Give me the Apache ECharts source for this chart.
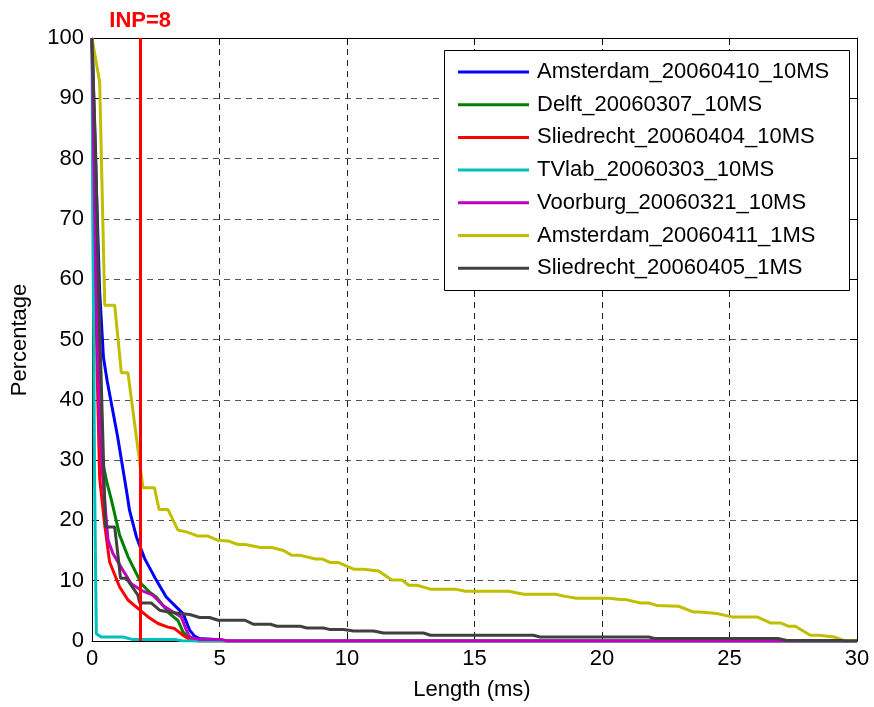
<!DOCTYPE html>
<html>
<head>
<meta charset="utf-8">
<script src="https://cdn.jsdelivr.net/npm/echarts@6/dist/echarts.min.js"></script>
<style>html,body{margin:0;padding:0;background:#fff;}#c{width:874px;height:707px;}</style>
</head>
<body>
<div id="c"></div>
<script>
const seriesNames = ['Amsterdam_20060410_10MS','Delft_20060307_10MS','Sliedrecht_20060404_10MS','TVlab_20060303_10MS','Voorburg_20060321_10MS','Amsterdam_20060411_1MS','Sliedrecht_20060405_1MS'];
const seriesColors = ['#0000ff','#008000','#ff0000','#00bfbf','#bf00bf','#bfbf00','#404040'];
const xTicks = [0,5,10,15,20,25,30];
const yTicks = [0,10,20,30,40,50,60,70,80,90,100];
const inpX = 1.89;
const inpLabel = 'INP=8';

const amsterdam0410 = [[0,100],[0.15,78],[0.3,58],[0.45,47],[0.6,43],[1.0,34],[1.35,25],[1.47,21.7],[1.74,17.3],[2.06,13.7],[2.52,10.1],[2.91,7.3],[3.3,5.65],[3.57,4.55],[3.83,1.8],[4.02,0.8],[4.22,0.4],[5.0,0.2],[5.3,0],[30,0]];
const delft0307 = [[0,100],[0.1,80],[0.2,55],[0.3,37],[0.45,29],[0.6,26],[0.76,23.4],[1.08,17.6],[1.41,14],[1.74,11.2],[1.93,9.5],[2.26,8.1],[2.52,7.3],[3.04,4.55],[3.37,3.4],[3.57,1.5],[3.83,0.4],[4.2,0],[30,0]];
const sliedrecht0404 = [[0,100],[0.1,70],[0.2,45],[0.3,27],[0.49,19.5],[0.69,13.1],[1.08,9.0],[1.41,6.8],[1.8,5.4],[2.2,4.0],[2.59,2.9],[2.98,2.3],[3.24,2.06],[3.57,0.95],[3.83,0.23],[4.1,0],[30,0]];
const tvlab0303 = [[0,100],[0.03,70],[0.07,50],[0.1,27],[0.17,1.2],[0.36,0.67],[1.22,0.67],[1.6,0.23],[3.3,0.23],[3.57,0],[30,0]];
const voorburg0321 = [[0,100],[0.05,85],[0.15,60],[0.2,50],[0.3,35],[0.43,26.5],[0.63,16.7],[0.82,14.5],[1.22,11.7],[1.54,9.5],[1.93,8.4],[2.39,7.6],[2.78,5.9],[3.18,4.8],[3.5,4.0],[3.7,1.8],[3.83,0.67],[4.22,0.23],[5.1,0.23],[5.3,0],[30,0]];
const amsterdam0411 = [[0,100],[0.3,92.7],[0.5,55.7],[0.89,55.7],[1.15,44.5],[1.41,44.5],[2.0,25.4],[2.45,25.4],[2.63,21.8],[2.98,21.8],[3.37,18.4],[3.7,18.1],[4.16,17.4],[4.55,17.4],[4.94,16.7],[5.33,16.6],[5.73,16.0],[6.01,16.0],[6.6,15.5],[7.06,15.5],[7.51,15.0],[7.84,14.2],[8.17,14.2],[8.76,13.6],[9.02,13.6],[9.35,13.0],[9.67,13.0],[10.26,11.9],[10.65,11.9],[11.24,11.6],[11.76,10.1],[12.16,10.1],[12.42,9.25],[12.75,9.25],[13.27,8.6],[14.25,8.6],[14.64,8.26],[16.34,8.26],[16.93,7.75],[18.17,7.75],[18.56,7.4],[19.0,7.1],[20.26,7.1],[20.72,6.9],[20.9,6.9],[21.5,6.3],[21.83,6.3],[22.15,5.9],[23.0,5.76],[23.6,4.8],[23.85,4.8],[24.5,4.55],[25.1,4.0],[26.08,4.0],[26.6,3.0],[27.0,3.0],[27.3,2.45],[27.58,2.45],[28.17,0.95],[28.5,0.95],[29.1,0.67],[29.47,0.1],[30,0]];
const sliedrecht0405 = [[0,100],[0.15,80],[0.25,60],[0.35,45],[0.45,30],[0.53,18.9],[0.89,18.9],[1.12,10.4],[1.35,10.4],[1.8,7.6],[1.87,6.3],[2.33,6.3],[2.65,5.1],[2.98,4.8],[3.44,4.55],[3.83,4.4],[4.22,3.9],[4.61,3.9],[4.94,3.44],[6.0,3.44],[6.34,2.77],[7.0,2.77],[7.25,2.44],[8.17,2.44],[8.43,2.16],[9.08,2.16],[9.35,1.89],[9.87,1.89],[10.26,1.66],[11.04,1.66],[11.43,1.33],[13.0,1.33],[13.27,0.95],[17.3,0.95],[17.57,0.67],[21.83,0.67],[22.1,0.4],[26.9,0.4],[27.25,0.1],[29.4,0.1],[29.6,0],[30,0]];

const allData = [amsterdam0410, delft0307, sliedrecht0404, tvlab0303, voorburg0321, amsterdam0411, sliedrecht0405];

const FONT = 'Liberation Sans, Arial, Helvetica, sans-serif';
const chart = echarts.init(document.getElementById('c'), null, {renderer:'canvas'});

const series = allData.map((d, i) => ({
  name: seriesNames[i],
  type: 'line',
  data: d,
  xAxisIndex: 0, yAxisIndex: 0,
  showSymbol: false,
  symbol: 'none',
  color: seriesColors[i],
  itemStyle: {color: seriesColors[i]},
  lineStyle: {color: seriesColors[i], width: 3},
  z: 2 + i * 0.01,
  animation: false
}));
series.push({
  name: 'INP',
  type: 'line',
  data: [],
  xAxisIndex: 0, yAxisIndex: 0,
  animation: false,
  z: 2.5,
  markLine: {
    silent: true,
    symbol: ['none','none'],
    animation: false,
    lineStyle: {color: '#ff0000', width: 3, type: 'solid'},
    label: {show: true, position: 'end', formatter: inpLabel, color: '#ff0000', fontWeight: 'bold', fontSize: 22, fontFamily: FONT, distance: 6},
    data: [{xAxis: inpX}]
  }
});

const axisCommon = {
  axisLine: {show: true, onZero: false, lineStyle: {color: '#000', width: 1}},
  axisTick: {show: true, inside: true, length: 7, lineStyle: {color: '#000'}},
};

chart.setOption({
  backgroundColor: '#fff',
  animation: false,
  grid: {left: 92, right: 17, top: 38, bottom: 66, containLabel: false},
  xAxis: [
    Object.assign({type: 'value', min: 0, max: 30, interval: 5,
      axisLabel: {color: '#000', fontSize: 22, fontFamily: FONT, margin: 7, formatter: v => xTicks.includes(v) ? String(v) : ''},
      splitLine: {show: true, lineStyle: {color: '#222', width: 1, type: [6,5]}}}, axisCommon),
    Object.assign({type: 'value', min: 0, max: 30, interval: 5, position: 'top',
      axisLabel: {show: false}, splitLine: {show: false}}, axisCommon)
  ],
  yAxis: [
    Object.assign({type: 'value', min: 0, max: 100, interval: 10,
      axisLabel: {color: '#000', fontSize: 22, fontFamily: FONT, margin: 8, formatter: v => yTicks.includes(v) ? String(v) : ''},
      splitLine: {show: true, lineStyle: {color: '#555', width: 1, type: [6,5]}}}, axisCommon),
    Object.assign({type: 'value', min: 0, max: 100, interval: 10, position: 'right',
      axisLabel: {show: false}, splitLine: {show: false}}, axisCommon)
  ],
  legend: {
    data: seriesNames,
    orient: 'vertical',
    left: 458, top: 61,
    padding: 0,
    icon: 'rect',
    itemWidth: 71, itemHeight: 3,
    itemGap: 10.7,
    textStyle: {color: '#000', fontSize: 22, fontFamily: FONT, lineHeight: 22, padding: [0,0,0,3]},
    selectedMode: false,
    z: 10
  },
  graphic: [
    {type: 'rect', z: 5, shape: {x: 444.5, y: 50.5, width: 405, height: 240}, style: {fill: '#fff', stroke: '#000', lineWidth: 1}},
    {type: 'text', z: 5, x: 472, y: 690, style: {text: 'Length (ms)', fill: '#000', font: '22px ' + FONT, align: 'center', verticalAlign: 'middle'}},
    {type: 'text', z: 5, x: 20, y: 340, rotation: Math.PI/2, style: {text: 'Percentage', fill: '#000', font: '22px ' + FONT, align: 'center', verticalAlign: 'middle'}}
  ],
  series: series
});
</script>
</body>
</html>
